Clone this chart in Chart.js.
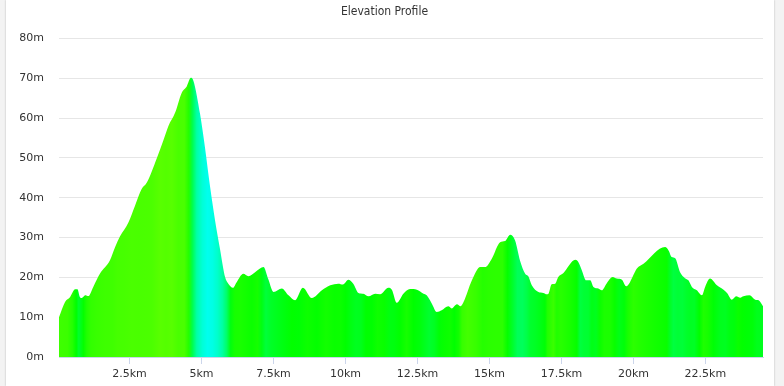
<!DOCTYPE html>
<html>
<head>
<meta charset="utf-8">
<script src="https://cdn.jsdelivr.net/npm/chart.js@4.4.1/dist/chart.umd.min.js"></script>
<style>
  html, body { margin: 0; padding: 0; background: #f3f3f3; }
  #box {
    position: absolute; left: 6px; top: 0; width: 768px; height: 386px;
    background: #fff; box-shadow: 0 0 2px rgba(0,0,0,0.25);
  }
</style>
</head>
<body>
<div id="box"><canvas id="chart" width="768" height="386"></canvas></div>
<script>
// distance along the route (km) and elevation (m)
const distances = [
  0.05, 0.26, 0.43, 0.61, 0.69, 0.78, 0.84, 0.96, 1.07, 1.24,
  1.48, 1.82, 2.00, 2.17, 2.46, 2.69, 2.92, 3.10, 3.45, 3.67,
  3.85, 4.08, 4.31, 4.49, 4.63, 4.72, 4.95, 5.12, 5.30, 5.47,
  5.64, 5.82, 5.93, 6.09, 6.22, 6.45, 6.63, 6.86, 7.03, 7.15,
  7.32, 7.50, 7.79, 8.02, 8.25, 8.52, 8.83, 9.18, 9.47, 9.75,
  9.91, 10.10, 10.27, 10.45, 10.62, 10.80, 11.03, 11.20, 11.49, 11.61,
  11.78, 12.01, 12.24, 12.48, 12.71, 12.82, 13.00, 13.17, 13.34, 13.57,
  13.69, 13.87, 14.00, 14.10, 14.39, 14.68, 14.85, 15.08, 15.37, 15.54,
  15.72, 15.89, 16.06, 16.24, 16.35, 16.47, 16.70, 16.87, 16.99, 17.05,
  17.16, 17.28, 17.39, 17.57, 17.98, 18.09, 18.21, 18.36, 18.50, 18.61,
  18.78, 18.90, 19.08, 19.28, 19.42, 19.60, 19.75, 19.88, 20.12, 20.35,
  21.10, 21.22, 21.33, 21.45, 21.62, 21.79, 21.91, 22.03, 22.20, 22.38,
  22.49, 22.66, 22.90, 23.13, 23.25, 23.42, 23.57, 23.71, 23.82, 24.03,
  24.23, 24.35, 24.50
];
const elevations = [
  10, 13.8, 15, 17, 17, 15, 14.8, 15.5, 15.3, 17.6,
  21, 24.3, 27.6, 30.3, 33.8, 38, 42.2, 43.8, 50, 54.3,
  58, 61.3, 66.3, 68, 70.1, 69.3, 61, 52.6, 42.6, 34.3,
  27.2, 20, 18.4, 17.4, 18.8, 20.9, 20.3, 21.3, 22.2, 22.6,
  19.5, 16.3, 17.2, 15.5, 14.25, 17.4, 14.8, 16.75, 18, 18.4,
  18.2, 19.4, 18.4, 16.1, 15.9, 15.25, 15.9, 15.75, 17.4, 16.9,
  13.6, 15.9, 17.1, 16.9, 15.9, 15.5, 13.4, 11.3, 11.75, 12.75,
  12.2, 13.25, 12.75, 13.8, 19.25, 22.6, 22.6, 24.7, 28.8, 29.1,
  30.7, 29.25, 24.25, 20.9, 20.25, 18, 16.3, 16.1, 15.75, 15.9,
  18.25, 18.4, 20.1, 21.1, 24.4, 23.8, 21.75, 19.25, 19.25, 17.6,
  17.2, 16.75, 18.6, 20.1, 19.7, 19.4, 17.75, 18.8, 22.2, 23.4,
  27.6, 26.75, 25.1, 24.8, 21.3, 19.8, 19.25, 17.6, 16.75, 15.5,
  17.6, 19.7, 18, 16.9, 16.1, 14.4, 15.25, 14.9, 15.25, 15.5,
  14.4, 14.25, 12.75
];
const xTicks = [2.5, 5, 7.5, 10, 12.5, 15, 17.5, 20, 22.5];
const yTicks = [0, 10, 20, 30, 40, 50, 60, 70, 80];

// colour of a stretch from its gradient in percent
function gradeColor(grade) {
  let hue = 120 - 11 * grade;
  hue = Math.max(75, Math.min(176, hue));
  return "hsl(" + hue + ",100%,50%)";
}

function slopeFill(context) {
  const chart = context.chart;
  const area = chart.chartArea;
  if (!area) return "#00ff00";
  const x = chart.scales.x;
  const g = chart.ctx.createLinearGradient(area.left, 0, area.right, 0);
  const n = distances.length;
  for (let i = 0; i < n - 1; i++) {
    // gradient over a short window round this stretch
    const a = Math.max(0, i - 1);
    const b = Math.min(n - 1, i + 2);
    const run = (distances[b] - distances[a]) * 1000;
    const grade = (elevations[b] - elevations[a]) / run * 100;
    const mid = (distances[i] + distances[i + 1]) / 2;
    let pos = (x.getPixelForValue(mid) - area.left) / (area.right - area.left);
    pos = Math.max(0, Math.min(1, pos));
    g.addColorStop(pos, gradeColor(grade));
  }
  return g;
}

Chart.defaults.font.family = "DejaVu Sans";
Chart.defaults.font.size = 11;
Chart.defaults.color = "#333";

new Chart(document.getElementById("chart"), {
  type: "line",
  data: {
    datasets: [{
      label: "Elevation",
      data: distances.map((d, i) => ({ x: d, y: elevations[i] })),
      fill: "origin",
      backgroundColor: slopeFill,
      borderWidth: 0,
      pointRadius: 0,
      cubicInterpolationMode: "monotone"
    }]
  },
  options: {
    responsive: false,
    animation: false,
    layout: { padding: { left: 0, right: 11, top: 0, bottom: 0 } },
    plugins: {
      legend: { display: false },
      tooltip: { enabled: false },
      title: {
        display: true,
        text: "Elevation Profile",
        color: "#333",
        font: { family: "DejaVu Sans Condensed", size: 12, weight: "normal" },
        padding: { top: 5, bottom: 19 }
      }
    },
    scales: {
      x: {
        type: "linear",
        min: 0.05,
        max: 24.5,
        afterFit: (s) => { s.height = 29; },
        afterBuildTicks: (s) => { s.ticks = xTicks.map((v) => ({ value: v })); },
        ticks: {
          padding: 4,
          maxRotation: 0,
          callback: (v) => v + "km"
        },
        grid: { drawOnChartArea: false, drawTicks: true, tickLength: 7, color: "#ccd6eb" },
        border: { color: "#ccd6eb" }
      },
      y: {
        min: 0,
        max: 80,
        afterFit: (s) => { s.width = 53; },
        afterBuildTicks: (s) => { s.ticks = yTicks.map((v) => ({ value: v })); },
        ticks: { padding: 15, callback: (v) => v + "m" },
        grid: { drawTicks: false, color: "#e6e6e6" },
        border: { display: false }
      }
    }
  }
});
</script>
</body>
</html>
